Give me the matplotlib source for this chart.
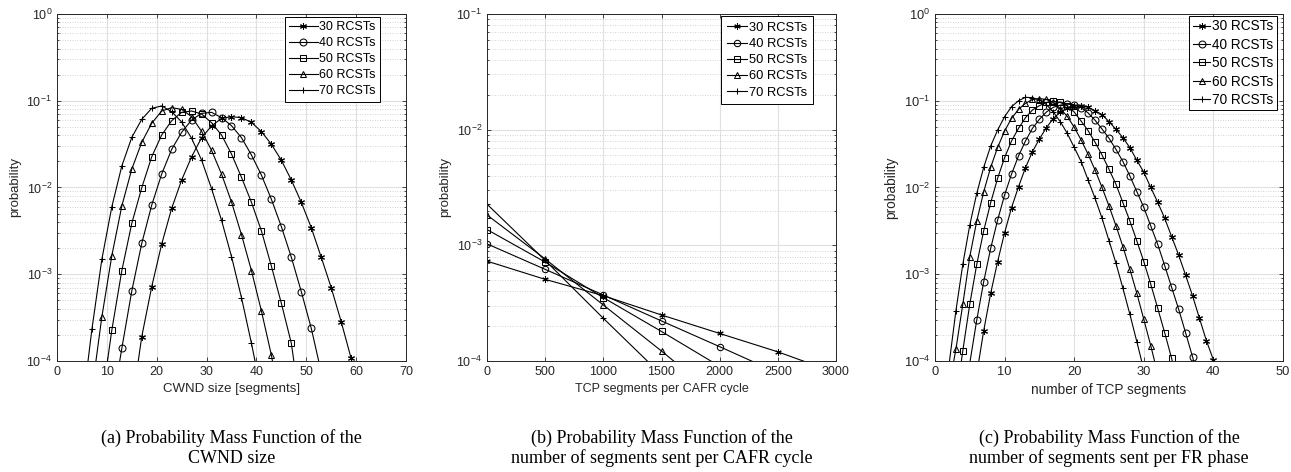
import numpy as np
import matplotlib.pyplot as plt
from matplotlib.ticker import LogLocator, NullFormatter

plt.rcParams['font.family'] = ['Liberation Sans', 'DejaVu Sans']
plt.rcParams['mathtext.default'] = 'regular'

labels = ['30 RCSTs', '40 RCSTs', '50 RCSTs', '60 RCSTs', '70 RCSTs']
markers = [(6, 2, 0), 'o', 's', '^', '+']

# (a) PMF of the CWND size, markers on odd sizes
# first and last point of each series lie just below 1e-4 (line runs off the axis)
cwnd_x30 = [16] + list(range(17, 60, 2)) + [60]
cwnd_p30 = [7.6e-5, 1.91e-4, 7.19e-4, 2.23e-3, 5.75e-3, 1.22e-2, 2.26e-2, 3.75e-2,
            5.12e-2, 6.27e-2, 6.55e-2, 6.38e-2, 5.64e-2, 4.41e-2, 3.15e-2, 2.06e-2,
            1.22e-2, 6.75e-3, 3.44e-3, 1.57e-3, 7.0e-4, 2.84e-4, 1.07e-4, 5.6e-5]
cwnd_x40 = [12] + list(range(13, 52, 2)) + [53]
cwnd_p40 = [6.3e-5, 1.40e-4, 6.41e-4, 2.27e-3, 6.28e-3, 1.43e-2, 2.75e-2, 4.33e-2,
            6.0e-2, 7.16e-2, 7.35e-2, 6.38e-2, 5.16e-2, 3.75e-2, 2.37e-2, 1.39e-2,
            7.31e-3, 3.54e-3, 1.57e-3, 6.3e-4, 2.38e-4, 7.4e-5]
cwnd_x50 = [10] + list(range(11, 48, 2)) + [48]
cwnd_p50 = [8.9e-5, 2.28e-4, 1.10e-3, 3.86e-3, 9.95e-3, 2.26e-2, 4.03e-2, 5.89e-2,
            7.35e-2, 7.62e-2, 7.03e-2, 5.58e-2, 4.03e-2, 2.43e-2, 1.31e-2, 6.75e-3,
            3.16e-3, 1.24e-3, 4.62e-4, 1.60e-4, 6.3e-5]
cwnd_x60 = [7] + list(range(9, 44, 2)) + [44]
cwnd_p60 = [4.5e-5, 3.24e-4, 1.64e-3, 6.12e-3, 1.63e-2, 3.32e-2, 5.50e-2, 7.62e-2,
            8.32e-2, 7.96e-2, 6.55e-2, 4.44e-2, 2.68e-2, 1.43e-2, 6.81e-3, 2.86e-3,
            1.10e-3, 3.77e-4, 1.17e-4, 5.6e-5]
cwnd_x70 = [6] + list(range(7, 40, 2)) + [40]
cwnd_p70 = [7.9e-5, 2.32e-4, 1.49e-3, 6.01e-3, 1.77e-2, 3.78e-2, 6.11e-2, 8.18e-2,
            8.71e-2, 7.48e-2, 5.69e-2, 3.69e-2, 2.07e-2, 9.70e-3, 4.19e-3, 1.60e-3,
            5.37e-4, 1.60e-4, 8.3e-5]

# (b) PMF of segments per CAFR cycle, last point lies below 1e-4
cafr_x30 = [0, 500, 1000, 1500, 2000, 2500, 3000]
cafr_p30 = [7.3e-4, 5.08e-4, 3.67e-4, 2.5e-4, 1.73e-4, 1.2e-4, 7.9e-5]
cafr_x40 = [0, 500, 1000, 1500, 2000, 2500]
cafr_p40 = [1.03e-3, 6.2e-4, 3.72e-4, 2.22e-4, 1.33e-4, 7.9e-5]
cafr_x50 = [0, 500, 1000, 1500, 2000]
cafr_p50 = [1.37e-3, 7.16e-4, 3.53e-4, 1.8e-4, 9.0e-5]
cafr_x60 = [0, 500, 1000, 1500, 2000]
cafr_p60 = [1.83e-3, 7.62e-4, 3.05e-4, 1.22e-4, 4.7e-5]
cafr_x70 = [0, 500, 1000, 1500]
cafr_p70 = [2.27e-3, 7.41e-4, 2.34e-4, 7.6e-5]

# (c) PMF of segments per FR phase, first/last point below 1e-4
fr_x30 = list(range(6, 42))
fr_p30 = [7.1e-5, 2.24e-4, 6.03e-4, 1.40e-3, 3.01e-3, 5.86e-3, 1.02e-2, 1.69e-2,
          2.59e-2, 3.62e-2, 4.90e-2, 6.24e-2, 7.41e-2, 8.22e-2, 8.71e-2, 8.81e-2,
          8.41e-2, 7.67e-2, 6.92e-2, 5.74e-2, 4.68e-2, 3.75e-2, 2.88e-2, 2.06e-2,
          1.50e-2, 1.00e-2, 6.75e-3, 4.42e-3, 2.71e-3, 1.67e-3, 9.8e-4, 5.66e-4,
          3.10e-4, 1.71e-4, 1.03e-4, 5.0e-5]
fr_x40 = list(range(5, 39))
fr_p40 = [9.5e-5, 2.97e-4, 8.22e-4, 1.99e-3, 4.22e-3, 8.20e-3, 1.43e-2, 2.31e-2,
          3.44e-2, 4.81e-2, 6.11e-2, 7.41e-2, 8.41e-2, 8.91e-2, 9.12e-2, 9.02e-2,
          8.32e-2, 7.24e-2, 5.96e-2, 4.72e-2, 3.69e-2, 2.75e-2, 1.99e-2, 1.36e-2,
          8.95e-3, 5.90e-3, 3.60e-3, 2.21e-3, 1.26e-3, 7.06e-4, 3.97e-4, 2.12e-4,
          1.12e-4, 5.6e-5]
fr_x50 = list(range(3, 36))
fr_p50 = [3.5e-5, 1.32e-4, 4.54e-4, 1.30e-3, 3.18e-3, 6.68e-3, 1.28e-2, 2.21e-2,
          3.44e-2, 4.81e-2, 6.38e-2, 7.82e-2, 8.77e-2, 9.55e-2, 9.89e-2, 9.55e-2,
          8.71e-2, 7.41e-2, 5.82e-2, 4.52e-2, 3.32e-2, 2.37e-2, 1.62e-2, 1.09e-2,
          6.68e-3, 4.11e-3, 2.42e-3, 1.40e-3, 7.66e-4, 4.05e-4, 2.12e-4, 1.07e-4,
          5.0e-5]
fr_x60 = list(range(2, 33))
fr_p60 = [5.0e-5, 1.36e-4, 4.54e-4, 1.60e-3, 4.11e-3, 8.95e-3, 1.71e-2, 2.90e-2,
          4.48e-2, 6.27e-2, 7.96e-2, 9.33e-2, 1.035e-1, 1.06e-1, 1.035e-1, 9.55e-2,
          8.13e-2, 6.61e-2, 4.95e-2, 3.53e-2, 2.41e-2, 1.59e-2, 1.00e-2, 6.12e-3,
          3.63e-3, 2.08e-3, 1.14e-3, 6.03e-4, 3.02e-4, 1.50e-4, 7.1e-5]
fr_x70 = list(range(2, 31))
fr_p70 = [8.9e-5, 3.77e-4, 1.31e-3, 3.70e-3, 8.57e-3, 1.71e-2, 3.01e-2, 4.60e-2,
          6.55e-2, 8.55e-2, 1.00e-1, 1.096e-1, 1.084e-1, 1.023e-1, 9.02e-2, 7.41e-2,
          5.75e-2, 4.21e-2, 2.90e-2, 1.99e-2, 1.22e-2, 7.50e-3, 4.42e-3, 2.44e-3,
          1.34e-3, 6.89e-4, 3.45e-4, 1.67e-4, 7.9e-5]

captions = ['(a) Probability Mass Function of the\nCWND size',
            '(b) Probability Mass Function of the\nnumber of segments sent per CAFR cycle',
            '(c) Probability Mass Function of the\nnumber of segments sent per FR phase']


def draw(ax, xs, ps, skip_first, ms, fs):
    for x, p, lab, m in zip(xs, ps, labels, markers):
        start = 1 if skip_first else 0
        ax.plot(x, p, color='k', lw=0.8, marker=m, ms=ms, mfc='none', mec='k',
                mew=0.75, markevery=list(range(start, len(x) - 1)), label=lab)
    ax.set_yscale('log')
    ax.yaxis.set_minor_locator(LogLocator(base=10, subs=np.arange(2, 10)))
    ax.yaxis.set_minor_formatter(NullFormatter())
    ax.grid(True, which='major', color='#e0e0e0', lw=0.8, ls='-')
    ax.grid(True, which='minor', axis='y', color='#c4c4c4', lw=0.6, ls=(0, (1, 2)))
    ax.set_axisbelow(True)
    ax.tick_params(which='both', direction='in', top=True, right=True,
                   labelsize=fs, colors='#262626', width=0.6)
    ax.tick_params(which='major', length=3)
    ax.tick_params(which='minor', length=1.5)
    for s in ax.spines.values():
        s.set_linewidth(0.7)
        s.set_color('#262626')
    ax.set_ylabel('probability', fontsize=fs + 0.5, color='#262626')


def add_legend(ax, anchor, fs, hl, pad):
    leg = ax.legend(loc='upper right', bbox_to_anchor=anchor, fontsize=fs,
                    handlelength=hl, handletextpad=0.12, borderpad=pad,
                    labelspacing=0.32, borderaxespad=0, fancybox=False,
                    edgecolor='k', framealpha=1)
    leg.get_frame().set_linewidth(0.7)


fig = plt.figure(figsize=(12.91, 4.72), dpi=100)
W, H = 1291, 472

ax_a = fig.add_axes([57 / W, 1 - 361 / H, 349 / W, 347 / H])
draw(ax_a, [cwnd_x30, cwnd_x40, cwnd_x50, cwnd_x60, cwnd_x70],
     [cwnd_p30, cwnd_p40, cwnd_p50, cwnd_p60, cwnd_p70], True, 5, 9)
ax_a.set_xlim(0, 70)
ax_a.set_xticks(range(0, 71, 10))
ax_a.set_ylim(1e-4, 1)
ax_a.set_xlabel('CWND size [segments]', fontsize=9.5, color='#262626')
add_legend(ax_a, (0.926, 0.992), 9, 2.3, 0.35)

ax_b = fig.add_axes([487 / W, 1 - 361 / H, 349 / W, 347 / H])
draw(ax_b, [cafr_x30, cafr_x40, cafr_x50, cafr_x60, cafr_x70],
     [cafr_p30, cafr_p40, cafr_p50, cafr_p60, cafr_p70], False, 4.6, 9)
ax_b.set_xlim(0, 3000)
ax_b.set_xticks(range(0, 3001, 500))
ax_b.set_ylim(1e-4, 1e-1)
ax_b.set_xlabel('TCP segments per CAFR cycle', fontsize=9, color='#262626')
add_legend(ax_b, (0.934, 0.994), 9.3, 1.6, 0.45)

ax_c = fig.add_axes([935 / W, 1 - 361 / H, 348 / W, 347 / H])
draw(ax_c, [fr_x30, fr_x40, fr_x50, fr_x60, fr_x70],
     [fr_p30, fr_p40, fr_p50, fr_p60, fr_p70], True, 5, 9.3)
ax_c.set_xlim(0, 50)
ax_c.set_xticks(range(0, 51, 10))
ax_c.set_ylim(1e-4, 1)
ax_c.set_xlabel('number of TCP segments', fontsize=9.8, color='#262626')
add_legend(ax_c, (0.982, 0.994), 9.8, 1.3, 0.25)

for ax, cap in zip([ax_a, ax_b, ax_c], captions):
    pos = ax.get_position()
    fig.text((pos.x0 + pos.x1) / 2, 1 - 448 / H, cap, ha='center', va='center',
             fontsize=13, family=['Liberation Serif', 'DejaVu Serif'],
             linespacing=1.2)

fig.savefig('out.png', dpi=100)
